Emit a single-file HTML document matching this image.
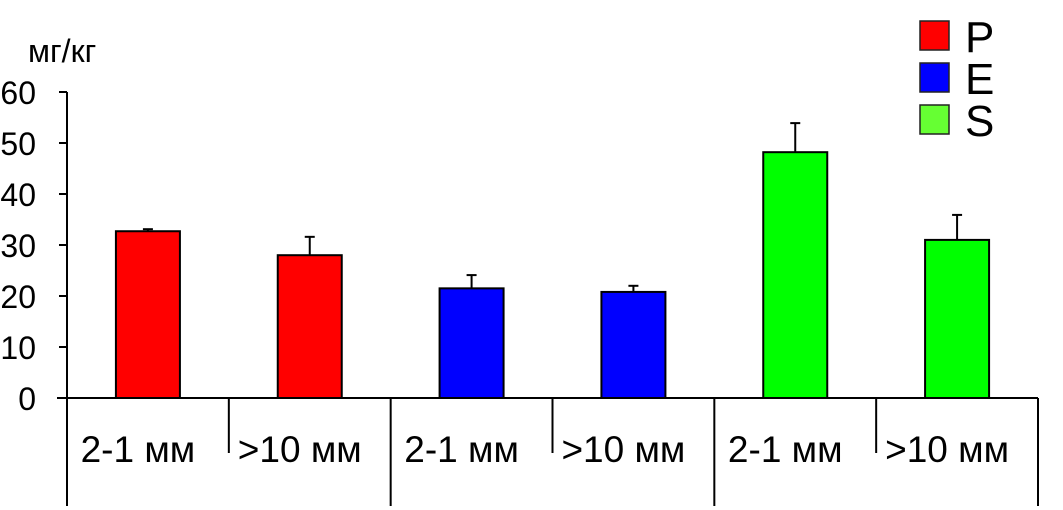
<!DOCTYPE html>
<html><head><meta charset="utf-8"><style>
body{margin:0;background:#fff}
svg{display:block;font-family:"Liberation Sans",sans-serif}
</style></head><body>
<svg id="chart" width="1063" height="510">
<g id="g"></g>
</svg>
<script>
const categories=["2-1 мм",">10 мм","2-1 мм",">10 мм","2-1 мм",">10 мм"];
const groups=["P","E","S"];
const values=[32.7,28.0,21.5,20.8,48.2,31.0];
const errors=[0.4,3.6,2.6,1.2,5.7,4.9];
const yTicks=[0,10,20,30,40,50,60];
const colors=["#ff0000","#0000ff","#00ff00"];
const legendColors=["#ff0000","#0000ff","#66ff33"];
const NS="http://www.w3.org/2000/svg";
const g=document.getElementById('g');
const x0=67,x1=1038,yZero=398,yTop=92;
const y=v=>yZero-(v/60)*(yZero-yTop);
const cw=(x1-x0)/categories.length;
function mk(t,a,p){const e=document.createElementNS(NS,t);for(const k in a)e.setAttribute(k,a[k]);(p||g).appendChild(e);return e;}
let ax=mk('line',{x1:x0,y1:yTop,x2:x0,y2:yZero,stroke:'#000','stroke-width':2});


yTicks.forEach(t=>{
 let l=mk('line',{x1:x0-8,y1:y(t),x2:x0,y2:y(t),stroke:'#000','stroke-width':2});
 
 
 let tx=mk('text',{x:36,y:y(t)+12,'text-anchor':'end','font-size':32});
 tx.textContent=t;
 
 
});
let un=mk('text',{x:28,y:62,'font-size':32});
un.textContent='мг/кг';


let xl=mk('line',{x1:x0-10,y1:yZero,x2:x1,y2:yZero,stroke:'#000','stroke-width':2});


for(let i=0;i<=categories.length;i++){
 const xx=x0+i*cw;
 let s=mk('line',{x1:xx,y1:yZero,x2:xx,y2:i%2==0?506:453,stroke:'#000','stroke-width':2});
 
 
}
categories.forEach((c,i)=>{
 const cx=x0+(i+0.5)*cw;
 let t=mk('text',{x:cx-10,y:462,'text-anchor':'middle','font-size':37});
 t.textContent=c;
 
 
 const bw=64,v=values[i],e=errors[i];
 let el=mk('line',{x1:cx,y1:y(v),x2:cx,y2:y(v+e),stroke:'#000','stroke-width':2});
 
 
 let cap=mk('line',{x1:cx-5,y1:y(v+e),x2:cx+5,y2:y(v+e),stroke:'#000','stroke-width':2});
 
 
 let b=mk('rect',{x:cx-bw/2,y:y(v),width:bw,height:yZero-y(v),fill:colors[Math.floor(i/2)],stroke:'#000','stroke-width':2});
 
 
});
groups.forEach((gname,i)=>{
 let r=mk('rect',{x:920,y:21+i*42,width:29,height:29,fill:legendColors[i],stroke:'#222','stroke-width':1.5});
 
 
 let t=mk('text',{x:965,y:52+i*42,'font-size':44});
 t.textContent=gname;
 
 
});
</script>
</body></html>
